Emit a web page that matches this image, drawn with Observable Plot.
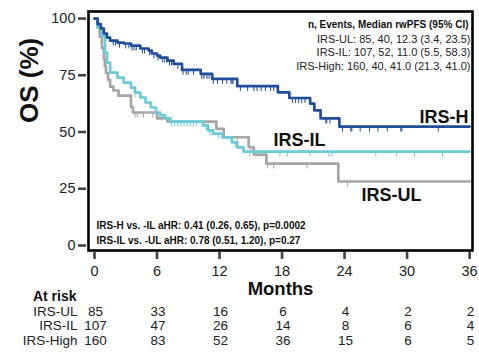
<!DOCTYPE html>
<html>
<head>
<meta charset="utf-8">
<script src="https://cdn.jsdelivr.net/npm/d3@7"></script>
<script src="https://cdn.jsdelivr.net/npm/@observablehq/plot@0.6"></script>
<style>
  html, body { margin: 0; padding: 0; background: #fff; }
  svg { overflow: visible; }
</style>
</head>
<body>
<div id="chart"></div>
<script>
// ---- data ----
const highTimes = [0,0.3,0.6,0.9,1.2,1.5,2.2,2.8,3.5,4.4,5.2,5.5,6.0,6.3,7.0,7.6,8.4,10.2,11.3,13.7,17.6,18.7,20.7,21.1,21.7,23.5,36];
const highSurv  = [100,97.5,95.6,93.4,91.6,90.3,89.4,89.0,88.1,86.8,85.9,84.6,83.7,82.8,81.5,80.0,77.4,75.6,73.4,70.2,67.5,65.0,62.5,59.5,56.0,52.4,52.4];
const highCens  = [1.8,2.0,2.4,3.0,3.3,3.6,3.8,4.0,4.6,4.8,5.3,5.7,6.1,6.5,6.7,6.9,7.2,7.4,8.0,8.5,8.8,9.0,9.5,10.3,10.5,10.8,11.0,11.4,11.8,12.3,12.7,13.1,13.2,13.3,14.0,14.7,15.3,15.6,16.0,16.4,16.9,17.2,19.0,19.3,19.6,19.9,20.2,22.2,22.3,22.6,23.8,24.6,24.7,25.5,26.4,27.2,28.1,29.4,29.5,33.0];

const ilTimes = [0,0.3,0.7,1.0,1.2,1.5,2.2,2.8,3.5,3.9,4.4,4.9,5.4,5.9,6.3,6.8,7.3,10.4,10.9,11.4,12.3,13.2,13.7,14.3,36];
const ilSurv  = [100,96,92.5,85,80.6,76.2,74,71.8,69.6,67.4,65.2,63,60.8,58.6,57.3,56,54.6,52.9,50.7,49.3,47.6,45.4,43.2,41.4,41.4];
const ilCens  = [3.8,3.9,7.4,7.7,8.0,8.3,8.6,8.9,9.2,9.5,9.8,10.7,11.1,11.3,11.9,13.1,13.5,14.9,15.5,16.2,17.8,18.5,20.7,22.5,22.8,27.0,29.0,30.7,33.4];

const ulTimes = [0,0.3,0.5,0.7,0.9,1.0,1.1,1.3,1.5,1.8,2.3,3.5,3.7,6.0,7.0,11.7,12.4,14.8,15.3,16.5,23.4,36];
const ulSurv  = [100,96,92,87,82,79,76,73,70,68.3,66,61,58.6,56,54.6,51.4,47.7,43.3,40,36.1,28.2,28.2];
const ulCens  = [3.9,4.1,4.7,5.6,13.7,15.0,16.6,17.2,20.4,24.3];

const xTicks = [0,6,12,18,24,30,36];
const yTicks = [0,25,50,75,100];

const riskMonths = [0,6,12,18,24,30,36];
const riskUL   = [85,33,16,6,4,2,2];
const riskIL   = [107,47,26,14,8,6,4];
const riskHigh = [160,83,52,36,15,6,5];

const legendTitle = "n, Events, Median rwPFS (95% CI)";
const legendLines = [
  "IRS-UL: 85, 40, 12.3 (3.4, 23.5)",
  "IRS-IL: 107, 52, 11.0 (5.5, 58.3)",
  "IRS-High: 160, 40, 41.0 (21.3, 41.0)"
];
const hrLines = [
  "IRS-H vs. -IL aHR: 0.41 (0.26, 0.65), p=0.0002",
  "IRS-IL vs. -UL aHR: 0.78 (0.51, 1.20), p=0.27"
];
const riskLabels = ["IRS-UL", "IRS-IL", "IRS-High"];

// ---- build tables ----
const colors = {UL: "#a6a6a6", IL: "#6ccbd9", H: "#1f4e9b"};
function curve(times, surv, g) { return times.map((t, i) => ({t, s: surv[i], g})); }
function stepAt(times, surv, t) { let v = surv[0]; for (let i = 0; i < times.length; i++) if (times[i] <= t) v = surv[i]; return v; }
function cens(c, times, surv, g) { return c.map(t => ({t, s: stepAt(times, surv, t), g})); }

const ulCurve = curve(ulTimes, ulSurv, "UL");
const ilCurve = curve(ilTimes, ilSurv, "IL");
const hCurve  = curve(highTimes, highSurv, "H");
const ulC = cens(ulCens, ulTimes, ulSurv, "UL");
const ilC = cens(ilCens, ilTimes, ilSurv, "IL");
const hC  = cens(highCens, highTimes, highSurv, "H");

const riskRows = [riskUL, riskIL, riskHigh];
const rowDy = [65, 79.5, 94];
const legendDy = [31, 44.5, 58.5];
const hrDy = [-22, -7];

const font = "Liberation Sans, Arial, Helvetica, sans-serif";

function censorMark(data, g) {
  return Plot.ruleX(data, {x: "t", y1: "s", y2: d => d.s - 2.4, stroke: colors[g], strokeWidth: 1});
}
function lineMark(data, g) {
  return Plot.line(data, {x: "t", y: "s", curve: "step-after", stroke: colors[g], strokeWidth: 2.7});
}
function label(str, opts) {
  return Plot.text([str], {text: d => d, lineAnchor: "bottom", fill: "#111", ...opts});
}

const chart = Plot.plot({
  width: 479,
  height: 352,
  marginLeft: 88,
  marginRight: 7,
  marginTop: 11,
  marginBottom: 102,
  style: {fontFamily: font, color: "#111", background: "#fff"},
  x: {domain: [-0.576, 36.28], label: null},
  y: {domain: [-2.2, 103.1], label: null},
  marks: [
    censorMark(ulC, "UL"), lineMark(ulCurve, "UL"),
    censorMark(ilC, "IL"), lineMark(ilCurve, "IL"),
    censorMark(hC, "H"), lineMark(hCurve, "H"),
    Plot.frame({stroke: "#000", strokeWidth: 2.6}),
    Plot.axisX({ticks: xTicks, tickSize: 7, dy: 2, text: null, label: null, stroke: "#444", strokeWidth: 2.6}),
    Plot.axisX({ticks: xTicks, tickSize: 0, tickPadding: 15, label: null, fontSize: 14.5, fill: "#222", tickFormat: d => String(d)}),
    Plot.axisY({ticks: yTicks, tickSize: 8, dx: -2, text: null, label: null, stroke: "#444", strokeWidth: 2.6}),
    Plot.axisY({ticks: yTicks, tickSize: 0, tickPadding: 13, label: null, fontSize: 14.5, fill: "#222", tickFormat: d => String(d)}),
    // axis titles
    label("OS (%)", {frameAnchor: "left", lineAnchor: "middle", rotate: -90, dx: -59, dy: -8, fontSize: 26, fontWeight: "bold"}),
    label("Months", {frameAnchor: "bottom", dy: 44, fontSize: 18.5, fontWeight: "bold"}),
    // legend block
    label(legendTitle, {frameAnchor: "top-right", textAnchor: "end", dx: -4, dy: 16, fontSize: 10, fontWeight: "bold"}),
    ...legendLines.map((s, i) => label(s, {frameAnchor: "top-right", textAnchor: "end", dx: -2, dy: legendDy[i], fontSize: 11, fill: "#222"})),
    // curve labels
    label("IRS-H", {frameAnchor: "top-right", textAnchor: "end", dx: -4, dy: 111, fontSize: 18, fontWeight: "bold"}),
    label("IRS-IL", {frameAnchor: "top-left", textAnchor: "start", dx: 185, dy: 134, fontSize: 18, fontWeight: "bold"}),
    label("IRS-UL", {frameAnchor: "top-left", textAnchor: "start", dx: 273, dy: 189, fontSize: 18, fontWeight: "bold"}),
    // hazard ratio annotations
    ...hrLines.map((s, i) => label(s, {frameAnchor: "bottom-left", textAnchor: "start", dx: 8, dy: hrDy[i], fontSize: 10, fontWeight: "bold"})),
    // at risk
    label("At risk", {frameAnchor: "bottom-left", textAnchor: "end", dx: -12, dy: 50, fontSize: 14, fontWeight: "bold"}),
    ...riskLabels.map((lab, r) => label(lab, {frameAnchor: "bottom-left", textAnchor: "end", dx: -11, dy: rowDy[r], fontSize: 13.5, fill: "#222"})),
    ...riskRows.map((arr, r) => Plot.text(arr, {x: (d, i) => riskMonths[i], text: d => String(d), frameAnchor: "bottom", lineAnchor: "bottom", dx: 1, dy: rowDy[r], fontSize: 13.5, fill: "#222"}))
  ]
});
document.getElementById("chart").appendChild(chart);
</script>
</body>
</html>
